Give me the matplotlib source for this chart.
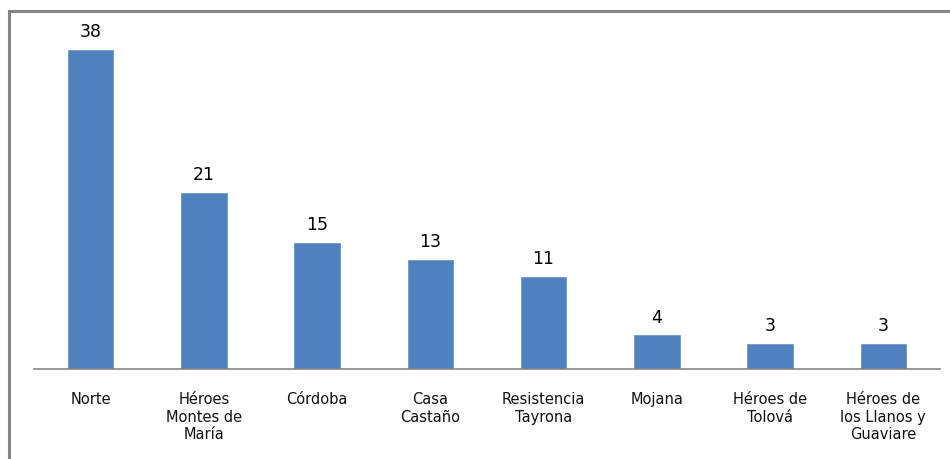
import matplotlib.pyplot as plt
from matplotlib.patches import Rectangle

categories = [
    "Norte",
    "Héroes\nMontes de\nMaría",
    "Córdoba",
    "Casa\nCastaño",
    "Resistencia\nTayrona",
    "Mojana",
    "Héroes de\nTolová",
    "Héroes de\nlos Llanos y\nGuaviare",
]
values = [38, 21, 15, 13, 11, 4, 3, 3]

plt.rcParams["font.family"] = ["DejaVu Sans"]

W, H = 950, 460
fig = plt.figure(figsize=(W / 100, H / 100), dpi=100)

# outer frame (only top and left edges visible in the reference)
fig.patches.append(Rectangle((9 / W, -0.1), 1.2, (H - 12) / H + 0.1,
                             transform=fig.transFigure, fill=False,
                             edgecolor="#868686", linewidth=2.2))

ax = fig.add_axes([34 / W, (H - 370) / H, (940 - 34) / W, 336 / H])
x = range(len(categories))
bars = ax.bar(x, values, width=0.4, color="#4F81BD", edgecolor="#6B97CE", linewidth=0.6)
ax.set_xlim(-0.5, len(categories) - 0.5)
ax.set_ylim(0, 40)

for b, v in zip(bars, values):
    ax.annotate(str(v), (b.get_x() + b.get_width() / 2, v), xytext=(0, 7),
                textcoords="offset points", ha="center", va="bottom",
                fontsize=12.5, color="#000000")

ax.set_xticks(list(x))
ax.set_xticklabels(categories, fontsize=10.5, color="#111111", linespacing=1.2,
                   va="top")
ax.tick_params(axis="x", length=0, pad=16)
ax.set_yticks([])
for s in ["top", "right", "left"]:
    ax.spines[s].set_visible(False)
ax.spines["bottom"].set_color("#868686")
ax.spines["bottom"].set_linewidth(1.2)

fig.savefig("out.png", dpi=100)
